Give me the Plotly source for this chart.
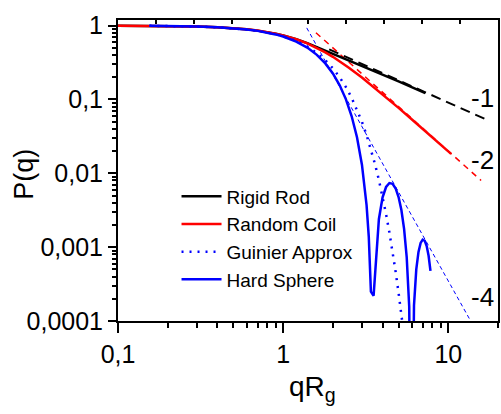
import math
import plotly.graph_objects as go

# ---------------- data ----------------
rod_x = [0.1, 0.2, 0.3, 0.4, 0.5, 0.6, 0.7, 0.8, 0.9, 1.0, 1.2, 1.4, 1.6, 1.8,
         2.0, 2.5, 3.0, 4.0, 5.0, 6.0, 7.0, 7.26]
rod_y = [0.99667, 0.9868, 0.97065, 0.94872, 0.9215, 0.8898, 0.8545, 0.8166,
         0.7765, 0.7348, 0.6541, 0.5781, 0.5110, 0.4549, 0.4096, 0.3337,
         0.2851, 0.2156, 0.1751, 0.1464, 0.1263, 0.1217]

coil_x = [0.1, 0.2, 0.3, 0.4, 0.5, 0.6, 0.7, 0.8, 0.9, 1.0, 1.2, 1.4, 1.6, 1.8,
          2.0, 2.5, 3.0, 4.0, 5.0, 6.0, 7.0, 8.0, 9.0, 10.0, 10.4]
coil_y = [0.99667, 0.9868, 0.97066, 0.94873, 0.9216, 0.89007, 0.8549, 0.81685,
          0.7769, 0.7358, 0.6529, 0.57313, 0.49966, 0.43423, 0.3773, 0.2689,
          0.19753, 0.11719, 0.0768, 0.05401, 0.03998, 0.03076, 0.024387,
          0.0198, 0.01832]

guinier_x = [0.155, 0.2, 0.3, 0.4, 0.5, 0.6, 0.7, 0.8, 0.9, 1.0, 1.2, 1.4, 1.6,
             1.8, 2.0, 2.2, 2.4, 2.6, 2.8, 3.0, 3.2, 3.4, 3.6, 3.8, 4.0, 4.2,
             4.4, 4.6, 4.8, 5.0, 5.2, 5.26]
guinier_y = [0.99202, 0.98676, 0.97045, 0.94806, 0.92004, 0.88692, 0.84931,
             0.80788, 0.76338, 0.71653, 0.61878, 0.52031, 0.42599, 0.33960,
             0.26360, 0.19922, 0.14661, 0.10504, 0.07330, 0.04979, 0.03294,
             0.02121, 0.01330, 0.008121, 0.004828, 0.002795, 0.001575,
             0.0008645, 0.0004620, 0.0002404, 0.0001218, 0.0000988]

sphere_x = [0.155, 0.2, 0.3, 0.4, 0.5, 0.6, 0.7, 0.8, 0.9, 1.0, 1.2, 1.4, 1.6,
            1.8, 2.0, 2.2, 2.4, 2.6, 2.8, 3.0, 3.2, 3.3, 3.4, 3.53, 3.6, 3.7,
            3.8, 4.0, 4.2, 4.4, 4.6, 4.8, 5.0, 5.2, 5.4, 5.6, 5.8, 5.98, 6.2,
            6.4, 6.6, 6.8, 7.0, 7.2, 7.4, 7.6, 7.8]
sphere_y = [0.99202, 0.98674, 0.97039, 0.94789, 0.91959, 0.88599, 0.8477,
            0.80519, 0.75925, 0.71057, 0.60790, 0.50300, 0.40127, 0.30731,
            0.22456, 0.15524, 0.10021, 0.059155, 0.030773, 0.013078,
            0.0037144, 0.0013920, 0.00024920, 0.00022, 0.00043376, 0.0012900,
            0.0023905, 0.0047192, 0.0065240, 0.0073733, 0.0072087, 0.0062287,
            0.0047656, 0.0031781, 0.0017686, 0.00073522, 0.00015595, 1e-7,
            0.00016360, 0.00049877, 0.00086209, 0.0011393, 0.0012634,
            0.0012193, 0.0010341, 0.00076526, 0.00047857]

slope_rod_x = [1.9, 16.7]
slope_rod_y = [0.477, 0.0543]
slope_coil_x = [1.58, 15.8]
slope_coil_y = [0.80, 0.0080]
slope_sphere_x = [1.39, 14.4]
slope_sphere_y = [0.93, 8.1e-5]

slope_labels = ["-1", "-2", "-4"]
slope_label_x = [16.0, 16.0, 16.0]
slope_label_y = [0.103, 0.015, 2.1e-4]

x_tickvals = [0.1, 1, 10]
x_ticktext = ["0,1", "1", "10"]
y_tickvals = [0.0001, 0.001, 0.01, 0.1, 1]
y_ticktext = ["0,0001", "0,001", "0,01", "0,1", "1"]

# ---------------- figure ----------------
FONT = "Liberation Sans"
BLUE = "#0000FF"
RED = "#FF0000"

fig = go.Figure()

# asymptote lines
fig.add_trace(go.Scatter(x=slope_rod_x, y=slope_rod_y, mode="lines",
                         line=dict(color="black", width=2, dash="10px,6px"),
                         showlegend=False, hoverinfo="skip"))
fig.add_trace(go.Scatter(x=slope_coil_x, y=slope_coil_y, mode="lines",
                         line=dict(color=RED, width=1.5, dash="6px,5px"),
                         showlegend=False, hoverinfo="skip"))
fig.add_trace(go.Scatter(x=slope_sphere_x, y=slope_sphere_y, mode="lines",
                         line=dict(color=BLUE, width=1, dash="4px,3px"),
                         showlegend=False, hoverinfo="skip"))

fig.add_trace(go.Scatter(x=rod_x, y=rod_y, mode="lines", name="Rigid Rod",
                         line=dict(color="black", width=2.5)))
fig.add_trace(go.Scatter(x=coil_x, y=coil_y, mode="lines", name="Random Coil",
                         line=dict(color=RED, width=2.5)))
fig.add_trace(go.Scatter(x=guinier_x, y=guinier_y, mode="lines",
                         name="Guinier Approx",
                         line=dict(color=BLUE, width=2.5, dash="2px,6px")))
fig.add_trace(go.Scatter(x=sphere_x, y=sphere_y, mode="lines",
                         name="Hard Sphere",
                         line=dict(color=BLUE, width=2.5)))

# dummy trace to activate the top axis
fig.add_trace(go.Scatter(x=[None], y=[None], xaxis="x2", yaxis="y",
                         showlegend=False, hoverinfo="skip"))

x_minor = [k * 10.0 ** e for e in (-1, 0, 1) for k in range(2, 10)]
y_minor = [k * 10.0 ** e for e in (-4, -3, -2, -1, 0) for k in range(2, 10)]

for lab, lx, ly in zip(slope_labels, slope_label_x, slope_label_y):
    fig.add_annotation(x=math.log10(lx), y=math.log10(ly), text=lab,
                       xref="x", yref="y", showarrow=False,
                       xanchor="center", yanchor="middle",
                       font=dict(family=FONT, size=26, color="black"))

fig.add_annotation(x=-0.248, y=0.488, xref="paper", yref="paper",
                   text="P(q)", textangle=-90, showarrow=False,
                   xanchor="center", yanchor="middle",
                   font=dict(family=FONT, size=27, color="black"))
fig.add_annotation(x=0.513, y=-0.225, xref="paper", yref="paper",
                   text="qR<sub>g</sub>", showarrow=False,
                   xanchor="center", yanchor="middle",
                   font=dict(family=FONT, size=28, color="black"))

TICKFONT = dict(family=FONT, size=25, color="black")

fig.update_layout(
    width=501, height=414,
    margin=dict(l=118, r=1, t=20, b=93),
    paper_bgcolor="white", plot_bgcolor="white",
    font=dict(family=FONT, size=25, color="black"),
    showlegend=True,
    legend=dict(x=0.154, y=0.477, xanchor="left", yanchor="top",
                bgcolor="rgba(0,0,0,0)", borderwidth=0,
                font=dict(family=FONT, size=19, color="black"),
                itemwidth=40, tracegroupgap=0),
    xaxis=dict(type="log", range=[-1, math.log10(20)],
               tickmode="array", tickvals=x_tickvals, ticktext=x_ticktext,
               tickfont=TICKFONT,
               ticks="outside", ticklen=10, tickwidth=2, tickcolor="black",
               showline=True, linewidth=2, linecolor="black", mirror=True,
               showgrid=False, zeroline=False,
               minor=dict(tickmode="array", tickvals=x_minor, ticks="outside",
                          ticklen=5, tickwidth=2, tickcolor="black",
                          showgrid=False)),
    xaxis2=dict(overlaying="x", side="top", range=[0, 10], dtick=1,
                ticks="inside", ticklen=4, tickwidth=1.5, tickcolor="black",
                showticklabels=False, showline=False, showgrid=False,
                zeroline=False),
    yaxis=dict(type="log", range=[-4, 0.0755],
               tickmode="array", tickvals=y_tickvals, ticktext=y_ticktext,
               tickfont=TICKFONT,
               ticks="outside", ticklen=8, tickwidth=2, tickcolor="black",
               showline=True, linewidth=2, linecolor="black", mirror=True,
               showgrid=False, zeroline=False,
               minor=dict(tickmode="array", tickvals=y_minor, ticks="outside",
                          ticklen=4, tickwidth=1.5, tickcolor="black",
                          showgrid=False)),
)

fig.write_html("out.html",
               config={"displayModeBar": False},
               post_script="document.body.style.margin='0';"
                           "document.body.style.overflow='hidden';")
